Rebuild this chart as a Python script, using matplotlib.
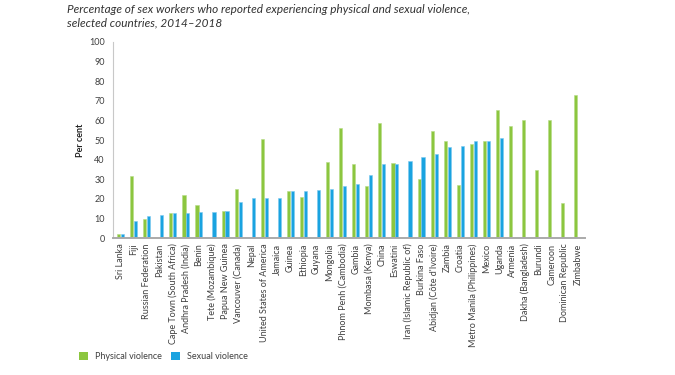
import matplotlib
matplotlib.use("Agg")
import matplotlib.pyplot as plt
import numpy as np
from matplotlib.patches import Patch

categories = [
    "Sri Lanka", "Fiji", "Russian Federation", "Pakistan", "Cape Town (South Africa)",
    "Andhra Pradesh (India)", "Benin", "Tete (Mozambique)", "Papua New Guinea",
    "Vancouver (Canada)", "Nepal", "United States of America", "Jamaica", "Guinea",
    "Ethiopia", "Guyana", "Mongolia", "Phnom Penh (Cambodia)", "Gambia",
    "Mombasa (Kenya)", "China", "Eswatini", "Iran (Islamic Republic of)",
    "Burkina Faso", "Abidjan (Côte d'Ivoire)", "Zambia", "Croatia",
    "Metro Manila (Philippines)", "Mexico", "Uganda", "Armenia", "Dakha (Bangladesh)",
    "Burundi", "Cameroon", "Dominican Republic", "Zimbabwe",
]
physical = [2.2, 31.6, 9.5, np.nan, 12.8, 22.1, 17.0, np.nan, 13.9, 25.0, np.nan, 50.7,
            np.nan, 23.8, 20.9, np.nan, 38.8, 56.0, 37.8, 26.4, 58.5, 38.4, np.nan,
            30.0, 54.6, 49.7, 27.0, 48.1, 49.7, 65.3, 57.3, 60.2, 34.9, 60.2, 18.0, 73.0]
sexual = [2.2, 8.8, 11.2, 11.9, 12.8, 12.9, 13.3, 13.3, 13.9, 18.4, 20.2, 20.4,
          20.6, 23.8, 24.0, 24.7, 25.0, 26.4, 27.6, 32.0, 37.8, 37.9, 39.1,
          41.5, 42.9, 46.3, 46.8, 49.7, 49.7, 51.0, np.nan, np.nan, np.nan, np.nan, np.nan, np.nan]

title = "Percentage of sex workers who reported experiencing physical and sexual violence,\nselected countries, 2014\u20132018"
green = "#8CC63F"
blue = "#1AA3E0"
txt = "#404040"

plt.rcParams['font.family'] = ['Lato', 'DejaVu Sans']

fig = plt.figure(figsize=(6.75, 3.75), dpi=100)
ax = fig.add_axes([0.1674, 0.3653, 0.6993, 0.5227])

x = np.arange(len(categories))
w = 0.24
ax.bar(x - 0.15, physical, width=w, color=green, edgecolor="#b5dc85", linewidth=0.4)
ax.bar(x + 0.15, sexual, width=w, color=blue, edgecolor="#7ccaf0", linewidth=0.4)

ax.set_xlim(-0.58, len(categories) - 0.45)
ax.set_ylim(0, 100)
ax.set_yticks(np.arange(0, 101, 10))
ax.tick_params(axis='y', length=0, pad=6, labelsize=6.5, labelcolor=txt)
ax.set_xticks(x)
ax.set_xticklabels(categories, rotation=90, fontsize=6.5, color=txt)
ax.tick_params(axis='x', length=0, pad=4)
for s in ["top", "right"]:
    ax.spines[s].set_visible(False)
ax.spines["left"].set_color("#c8c8c8")
ax.spines["left"].set_linewidth(0.8)
ax.spines["bottom"].set_color("#aaaaaa")
ax.spines["bottom"].set_linewidth(1.4)

ax.set_ylabel("Per cent", fontsize=6.5, fontweight="bold", color="#222222", labelpad=3)

fig.text(0.099, 0.99, title, ha="left", va="top", fontsize=8.5, style="italic",
         color="#333333", linespacing=1.35)

handles = [Patch(facecolor=green, label="Physical violence"),
           Patch(facecolor=blue, label="Sexual violence")]
fig.legend(handles=handles, loc="lower left", bbox_to_anchor=(0.105, 0.015), ncol=2,
           frameon=False, fontsize=6.5, handlelength=1.0, handleheight=1.0,
           columnspacing=1.0, handletextpad=0.8, labelcolor=txt)

fig.savefig("out.png", dpi=100)
